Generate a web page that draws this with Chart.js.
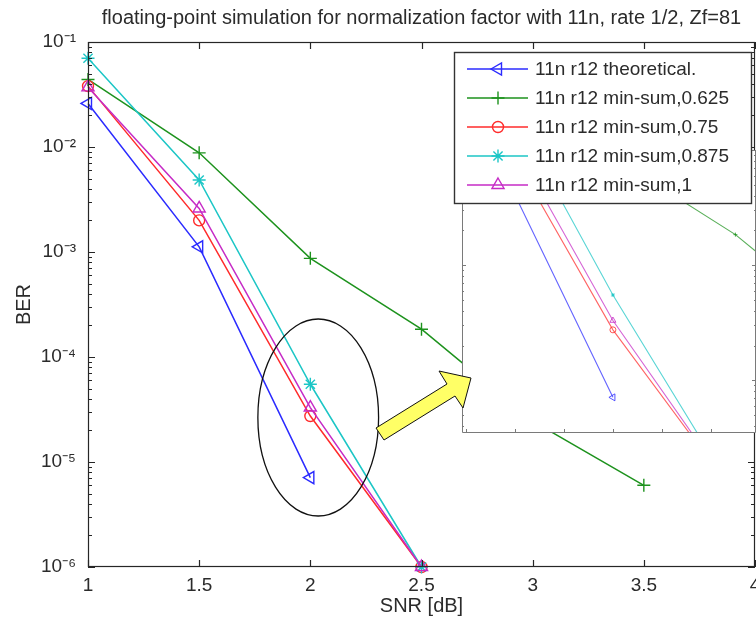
<!DOCTYPE html>
<html>
<head>
<meta charset="utf-8">
<script src="https://cdn.jsdelivr.net/npm/chart.js@4/dist/chart.umd.min.js"></script>
<style>
html,body{margin:0;padding:0;background:#fff;overflow:hidden;}
#wrap{position:relative;width:756px;height:624px;overflow:hidden;}
#wrap canvas{position:absolute;left:0;top:0;}
</style>
</head>
<body>
<div id="wrap">
<canvas id="main" width="756" height="624"></canvas>
<canvas id="inset" width="756" height="624"></canvas>
</div>
<script>
// ---------------- data ----------------
const snrDb = [1, 1.5, 2, 2.5, 3, 3.5];
const berTheoretical = [2.6e-2, 1.12e-3, 7.1e-6, null, null, null];
const berMinSum0625 = [4.4e-2, 8.8e-3, 8.7e-4, 1.84e-4, 2.45e-5, 6.0e-6];
const berMinSum075  = [3.8e-2, 2.0e-3, 2.74e-5, 1.0e-6, null, null];
const berMinSum0875 = [7.0e-2, 4.85e-3, 5.5e-5, 1.0e-6, null, null];
const berMinSum1    = [3.7e-2, 2.6e-3, 3.3e-5, 1.0e-6, null, null];
const seriesLabels = ['11n r12 theoretical.', '11n r12 min-sum,0.625', '11n r12 min-sum,0.75', '11n r12 min-sum,0.875', '11n r12 min-sum,1'];
const seriesValues = [berTheoretical, berMinSum0625, berMinSum075, berMinSum0875, berMinSum1];
const xTickValues = [1, 1.5, 2, 2.5, 3, 3.5, 4];
const yTickValues = [1e-6, 1e-5, 1e-4, 1e-3, 1e-2, 1e-1];
const insetXTickValues = [1.4, 1.6, 1.8, 2.0, 2.2, 2.4];
const titleText = 'floating-point simulation for normalization factor with 11n, rate 1/2, Zf=81';
const xAxisTitle = 'SNR [dB]';
const yAxisTitle = 'BER';

// ---------------- styles ----------------
const FONT = '"Liberation Sans", Arial, Helvetica, sans-serif';
const TEXT = '#2b2b2b';
const FRAME = '#262626';
const STYLES = [
  {color: '#2b2bff', pointStyle: 'triangle', rotation: -90, radius: 7,   insetRadius: 4},
  {color: '#1d921d', pointStyle: 'cross',    rotation: 0,   radius: 6.5, insetRadius: 2},
  {color: '#ff2b2b', pointStyle: 'circle',   rotation: 0,   radius: 5.5, insetRadius: 3},
  {color: '#1cc6c6', pointStyle: 'star',     rotation: 0,   radius: 6.5, insetRadius: 2},
  {color: '#c62bc6', pointStyle: 'triangle', rotation: 0,   radius: 7,   insetRadius: 3.5}
];
const SUP = {'-': '\u207B', '0': '\u2070', '1': '\u00B9', '2': '\u00B2', '3': '\u00B3', '4': '\u2074', '5': '\u2075', '6': '\u2076', '7': '\u2077', '8': '\u2078', '9': '\u2079'};
const sup = s => String(s).split('').map(c => SUP[c] || c).join('');

function points(vals) {
  return snrDb.map((x, i) => ({x: x, y: vals[i]}));
}

function minorTicksLog(scale, area, ctx, sides, majorLen, minorLen) {
  const lo = Math.floor(Math.log10(scale.min));
  const hi = Math.ceil(Math.log10(scale.max));
  ctx.beginPath();
  for (let d = lo; d <= hi; d++) {
    for (let k = 1; k <= 9; k++) {
      const v = k * Math.pow(10, d);
      if (v < scale.min * 0.999 || v > scale.max * 1.001) continue;
      const y = Math.round(scale.getPixelForValue(v)) + 0.5;
      const len = k === 1 ? majorLen : minorLen;
      if (sides.includes('left')) { ctx.moveTo(area.left, y); ctx.lineTo(area.left + len, y); }
      if (sides.includes('right')) { ctx.moveTo(area.right, y); ctx.lineTo(area.right - len, y); }
    }
  }
  ctx.stroke();
}

// ---------------- main chart ----------------
const mainDecor = {
  id: 'mainDecor',
  afterDraw(chart) {
    const ctx = chart.ctx, a = chart.chartArea;
    const xs = chart.scales.x, ys = chart.scales.y;
    ctx.save();
    // frame
    ctx.strokeStyle = FRAME; ctx.lineWidth = 1.2;
    ctx.strokeRect(a.left + 0.5, a.top + 0.5, a.right - a.left - 1, a.bottom - a.top - 1);
    // x ticks top and bottom
    ctx.beginPath();
    xs.ticks.forEach(t => {
      const x = Math.round(xs.getPixelForValue(t.value)) + 0.5;
      ctx.moveTo(x, a.bottom); ctx.lineTo(x, a.bottom - 7);
      ctx.moveTo(x, a.top); ctx.lineTo(x, a.top + 7);
    });
    ctx.stroke();
    // y ticks (major + minor)
    ctx.lineWidth = 1;
    minorTicksLog(ys, a, ctx, ['left', 'right'], 7, 4);
    // ellipse annotation (data coordinates)
    const ex0 = xs.getPixelForValue(1.764), ex1 = xs.getPixelForValue(2.307);
    const ey0 = ys.getPixelForValue(2.3e-4), ey1 = ys.getPixelForValue(3.06e-6);
    ctx.beginPath();
    ctx.ellipse((ex0 + ex1) / 2, (ey0 + ey1) / 2, (ex1 - ex0) / 2, (ey1 - ey0) / 2, 0, 0, Math.PI * 2);
    ctx.strokeStyle = '#111'; ctx.lineWidth = 1.3; ctx.stroke();
    // title
    ctx.fillStyle = TEXT;
    ctx.font = '20px ' + FONT;
    ctx.textAlign = 'center'; ctx.textBaseline = 'alphabetic';
    ctx.fillText(titleText, (a.left + a.right) / 2, 24);
    // axis titles
    ctx.font = '20px ' + FONT;
    ctx.fillText(xAxisTitle, (a.left + a.right) / 2, 612);
    ctx.translate(30, (a.top + a.bottom) / 2);
    ctx.rotate(-Math.PI / 2);
    ctx.fillText(yAxisTitle, 0, 0);
    ctx.restore();
  }
};

const mainChart = new Chart(document.getElementById('main'), {
  type: 'line',
  data: {
    datasets: seriesValues.map((vals, i) => ({
      label: seriesLabels[i],
      data: points(vals),
      borderColor: STYLES[i].color,
      backgroundColor: 'rgba(0,0,0,0)',
      pointBorderColor: STYLES[i].color,
      pointBackgroundColor: 'rgba(0,0,0,0)',
      pointStyle: STYLES[i].pointStyle,
      rotation: STYLES[i].rotation,
      pointRadius: STYLES[i].radius,
      pointBorderWidth: 1.4,
      borderWidth: 1.5,
      tension: 0,
      spanGaps: false,
      clip: false,
      order: 5 - i
    }))
  },
  options: {
    responsive: false,
    devicePixelRatio: 1,
    animation: false,
    events: [],
    layout: {autoPadding: false, padding: {top: 42, right: 1, bottom: 0, left: 0}},
    plugins: {legend: {display: false}, title: {display: false}, tooltip: {enabled: false}},
    scales: {
      x: {
        type: 'linear', min: 1, max: 4,
        grid: {display: false, drawTicks: false},
        border: {display: false},
        afterBuildTicks: s => { s.ticks = xTickValues.map(v => ({value: v})); },
        ticks: {
          autoSkip: false, maxRotation: 0, padding: 7,
          color: TEXT, font: {family: FONT, size: 19},
          callback: v => String(v)
        },
        afterFit: s => { s.height = 57; s.paddingLeft = 0; s.paddingRight = 0; }
      },
      y: {
        type: 'logarithmic', min: 1e-6, max: 1e-1,
        grid: {display: false, drawTicks: false},
        border: {display: false},
        afterBuildTicks: s => { s.ticks = yTickValues.map(v => ({value: v, major: true})); },
        ticks: {
          autoSkip: false, padding: 12,
          color: TEXT, font: {family: FONT, size: 19},
          callback: v => '10' + sup(Math.round(Math.log10(v)))
        },
        afterFit: s => { s.width = 88; s.paddingTop = 0; s.paddingBottom = 0; }
      }
    }
  },
  plugins: [mainDecor]
});

// ---------------- inset (magnified view) ----------------
function drawMarker(ctx, st, x, y, r) {
  ctx.save();
  ctx.strokeStyle = st.color; ctx.fillStyle = 'rgba(0,0,0,0)'; ctx.lineWidth = 1.4;
  if (Chart.helpers && Chart.helpers.drawPoint) {
    Chart.helpers.drawPoint(ctx, {pointStyle: st.pointStyle, rotation: st.rotation, radius: r, borderWidth: 1.4}, x, y);
  }
  ctx.restore();
}

const insetDecor = {
  id: 'insetDecor',
  beforeDatasetsDraw(chart) {
    const ctx = chart.ctx, a = chart.chartArea;
    ctx.save();
    ctx.fillStyle = '#ffffff';
    ctx.fillRect(a.left, a.top, a.right - a.left, a.bottom - a.top);
    ctx.restore();
  },
  afterDraw(chart) {
    const ctx = chart.ctx, a = chart.chartArea;
    const xs = chart.scales.x, ys = chart.scales.y;
    ctx.save();
    // frame: left, bottom, right
    ctx.strokeStyle = '#7a7a7a'; ctx.lineWidth = 1;
    ctx.beginPath();
    ctx.moveTo(a.left + 0.5, a.top); ctx.lineTo(a.left + 0.5, a.bottom - 0.5);
    ctx.lineTo(a.right - 0.5, a.bottom - 0.5); ctx.lineTo(a.right - 0.5, a.top);
    ctx.stroke();
    ctx.beginPath();
    insetXTickValues.forEach(v => {
      const x = Math.round(xs.getPixelForValue(v)) + 0.5;
      ctx.moveTo(x, a.bottom); ctx.lineTo(x, a.bottom - 4);
    });
    ctx.stroke();
    minorTicksLog(ys, a, ctx, ['left', 'right'], 4, 2);

    // legend
    const L = {left: 454, top: 52, right: 751, bottom: 203, rowTop: 69, rowStep: 29};
    ctx.fillStyle = '#ffffff';
    ctx.fillRect(L.left, L.top, L.right - L.left, L.bottom - L.top);
    ctx.strokeStyle = '#333'; ctx.lineWidth = 1.4;
    ctx.strokeRect(L.left + 0.5, L.top + 0.5, L.right - L.left, L.bottom - L.top);
    ctx.font = '19px ' + FONT;
    ctx.textAlign = 'left'; ctx.textBaseline = 'middle';
    seriesLabels.forEach((lab, i) => {
      const y = L.rowTop + i * L.rowStep;
      const st = STYLES[i];
      ctx.strokeStyle = st.color; ctx.lineWidth = 1.5;
      ctx.beginPath(); ctx.moveTo(467, y); ctx.lineTo(528, y); ctx.stroke();
      drawMarker(ctx, st, 498, y, st.radius);
      ctx.fillStyle = TEXT;
      ctx.fillText(lab, 535, y + 1);
    });

    // yellow arrow (pointing into the magnified view)
    const pts = [[376, 428], [447, 384], [439, 371], [471, 378], [463, 408], [455, 396], [384, 440]];
    ctx.beginPath();
    pts.forEach((p, i) => i ? ctx.lineTo(p[0], p[1]) : ctx.moveTo(p[0], p[1]));
    ctx.closePath();
    ctx.fillStyle = '#ffff66'; ctx.fill();
    ctx.strokeStyle = '#111'; ctx.lineWidth = 1; ctx.stroke();
    ctx.restore();
  }
};

const insetChart = new Chart(document.getElementById('inset'), {
  type: 'line',
  data: {
    datasets: seriesValues.map((vals, i) => ({
      label: seriesLabels[i],
      data: points(vals),
      borderColor: STYLES[i].color + 'bb',
      backgroundColor: 'rgba(0,0,0,0)',
      pointBorderColor: STYLES[i].color + 'cc',
      pointBackgroundColor: 'rgba(0,0,0,0)',
      pointStyle: STYLES[i].pointStyle,
      rotation: STYLES[i].rotation,
      pointRadius: STYLES[i].insetRadius,
      pointBorderWidth: 1,
      borderWidth: 1.1,
      tension: 0,
      spanGaps: false,
      order: 5 - i
    }))
  },
  options: {
    responsive: false,
    devicePixelRatio: 1,
    animation: false,
    events: [],
    layout: {autoPadding: false, padding: {top: 150, right: 0, bottom: 191, left: 462}},
    plugins: {legend: {display: false}, title: {display: false}, tooltip: {enabled: false}},
    scales: {
      x: {type: 'linear', display: false, min: 1.384, max: 2.584},
      y: {type: 'logarithmic', display: false, min: 3.48e-6, max: 1e-3}
    }
  },
  plugins: [insetDecor]
});
</script>
</body>
</html>
